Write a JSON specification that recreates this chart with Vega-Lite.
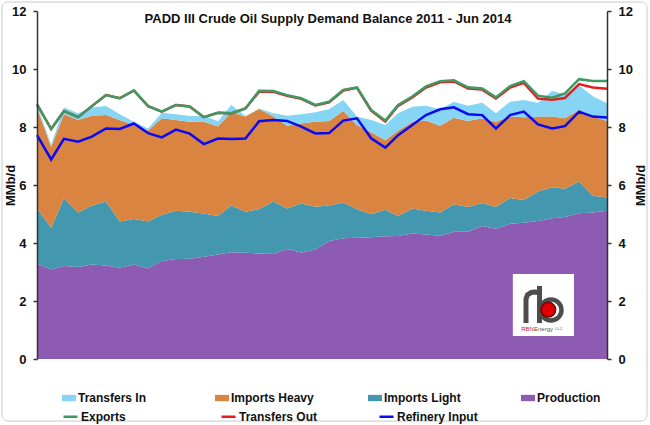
{
  "$schema": "https://vega.github.io/schema/vega-lite/v6.json",
  "width": 570,
  "height": 348,
  "autosize": {"type": "none"},
  "padding": {"left": 37, "top": 11, "right": 43, "bottom": 66},
  "background": "white",
  "title": {
    "text": "PADD III Crude Oil Supply Demand Balance 2011 - Jun 2014",
    "font": "Liberation Sans",
    "fontSize": 13,
    "fontWeight": "bold",
    "color": "#111111",
    "anchor": "middle",
    "dx": 6,
    "offset": -24
  },
  "config": {"view": {"stroke": null}, "font": "Liberation Sans"},
  "datasets": {
    "balance": [
      {"month": "2011-01-01", "Production": 3.29, "Imports Light": 1.90, "Imports Heavy": 3.46, "Transfers In": 0.11, "Exports": 8.78, "Transfers Out": 8.78, "Refinery Input": 7.72},
      {"month": "2011-02-01", "Production": 3.09, "Imports Light": 1.44, "Imports Heavy": 2.79, "Transfers In": 0.08, "Exports": 7.93, "Transfers Out": 7.93, "Refinery Input": 6.88},
      {"month": "2011-03-01", "Production": 3.21, "Imports Light": 2.33, "Imports Heavy": 2.90, "Transfers In": 0.23, "Exports": 8.55, "Transfers Out": 8.55, "Refinery Input": 7.59},
      {"month": "2011-04-01", "Production": 3.17, "Imports Light": 1.88, "Imports Heavy": 3.19, "Transfers In": 0.23, "Exports": 8.34, "Transfers Out": 8.34, "Refinery Input": 7.49},
      {"month": "2011-05-01", "Production": 3.26, "Imports Light": 2.03, "Imports Heavy": 3.10, "Transfers In": 0.28, "Exports": 8.72, "Transfers Out": 8.72, "Refinery Input": 7.67},
      {"month": "2011-06-01", "Production": 3.22, "Imports Light": 2.21, "Imports Heavy": 2.98, "Transfers In": 0.31, "Exports": 9.10, "Transfers Out": 9.10, "Refinery Input": 7.95},
      {"month": "2011-07-01", "Production": 3.15, "Imports Light": 1.59, "Imports Heavy": 3.50, "Transfers In": 0.20, "Exports": 8.99, "Transfers Out": 8.99, "Refinery Input": 7.93},
      {"month": "2011-08-01", "Production": 3.26, "Imports Light": 1.57, "Imports Heavy": 3.24, "Transfers In": 0.11, "Exports": 9.26, "Transfers Out": 9.26, "Refinery Input": 8.12},
      {"month": "2011-09-01", "Production": 3.12, "Imports Light": 1.62, "Imports Heavy": 3.14, "Transfers In": 0.07, "Exports": 8.72, "Transfers Out": 8.72, "Refinery Input": 7.79},
      {"month": "2011-10-01", "Production": 3.38, "Imports Light": 1.59, "Imports Heavy": 3.33, "Transfers In": 0.19, "Exports": 8.53, "Transfers Out": 8.53, "Refinery Input": 7.64},
      {"month": "2011-11-01", "Production": 3.45, "Imports Light": 1.66, "Imports Heavy": 3.13, "Transfers In": 0.20, "Exports": 8.76, "Transfers Out": 8.76, "Refinery Input": 7.91},
      {"month": "2011-12-01", "Production": 3.46, "Imports Light": 1.62, "Imports Heavy": 3.10, "Transfers In": 0.20, "Exports": 8.71, "Transfers Out": 8.71, "Refinery Input": 7.77},
      {"month": "2012-01-01", "Production": 3.53, "Imports Light": 1.49, "Imports Heavy": 3.16, "Transfers In": 0.21, "Exports": 8.34, "Transfers Out": 8.34, "Refinery Input": 7.41},
      {"month": "2012-02-01", "Production": 3.60, "Imports Light": 1.33, "Imports Heavy": 3.09, "Transfers In": 0.18, "Exports": 8.49, "Transfers Out": 8.49, "Refinery Input": 7.60},
      {"month": "2012-03-01", "Production": 3.68, "Imports Light": 1.61, "Imports Heavy": 3.22, "Transfers In": 0.25, "Exports": 8.47, "Transfers Out": 8.47, "Refinery Input": 7.59},
      {"month": "2012-04-01", "Production": 3.66, "Imports Light": 1.42, "Imports Heavy": 3.28, "Transfers In": 0.02, "Exports": 8.64, "Transfers Out": 8.64, "Refinery Input": 7.60},
      {"month": "2012-05-01", "Production": 3.64, "Imports Light": 1.53, "Imports Heavy": 3.45, "Transfers In": 0.02, "Exports": 9.25, "Transfers Out": 9.22, "Refinery Input": 8.20},
      {"month": "2012-06-01", "Production": 3.62, "Imports Light": 1.81, "Imports Heavy": 2.93, "Transfers In": 0.11, "Exports": 9.24, "Transfers Out": 9.21, "Refinery Input": 8.24},
      {"month": "2012-07-01", "Production": 3.79, "Imports Light": 1.40, "Imports Heavy": 2.85, "Transfers In": 0.35, "Exports": 9.10, "Transfers Out": 9.08, "Refinery Input": 8.21},
      {"month": "2012-08-01", "Production": 3.67, "Imports Light": 1.69, "Imports Heavy": 2.76, "Transfers In": 0.32, "Exports": 8.99, "Transfers Out": 8.97, "Refinery Input": 8.01},
      {"month": "2012-09-01", "Production": 3.78, "Imports Light": 1.47, "Imports Heavy": 2.93, "Transfers In": 0.33, "Exports": 8.76, "Transfers Out": 8.74, "Refinery Input": 7.78},
      {"month": "2012-10-01", "Production": 4.07, "Imports Light": 1.22, "Imports Heavy": 2.92, "Transfers In": 0.40, "Exports": 8.87, "Transfers Out": 8.85, "Refinery Input": 7.79},
      {"month": "2012-11-01", "Production": 4.16, "Imports Light": 1.24, "Imports Heavy": 3.15, "Transfers In": 0.38, "Exports": 9.28, "Transfers Out": 9.26, "Refinery Input": 8.22},
      {"month": "2012-12-01", "Production": 4.18, "Imports Light": 0.98, "Imports Heavy": 2.91, "Transfers In": 0.29, "Exports": 9.37, "Transfers Out": 9.35, "Refinery Input": 8.30},
      {"month": "2013-01-01", "Production": 4.20, "Imports Light": 0.79, "Imports Heavy": 2.83, "Transfers In": 0.42, "Exports": 8.59, "Transfers Out": 8.56, "Refinery Input": 7.61},
      {"month": "2013-02-01", "Production": 4.23, "Imports Light": 0.92, "Imports Heavy": 2.39, "Transfers In": 0.53, "Exports": 8.22, "Transfers Out": 8.19, "Refinery Input": 7.29},
      {"month": "2013-03-01", "Production": 4.24, "Imports Light": 0.69, "Imports Heavy": 2.94, "Transfers In": 0.60, "Exports": 8.76, "Transfers Out": 8.73, "Refinery Input": 7.72},
      {"month": "2013-04-01", "Production": 4.33, "Imports Light": 0.86, "Imports Heavy": 2.98, "Transfers In": 0.53, "Exports": 9.05, "Transfers Out": 9.02, "Refinery Input": 8.07},
      {"month": "2013-05-01", "Production": 4.29, "Imports Light": 0.82, "Imports Heavy": 3.11, "Transfers In": 0.51, "Exports": 9.40, "Transfers Out": 9.36, "Refinery Input": 8.41},
      {"month": "2013-06-01", "Production": 4.25, "Imports Light": 0.80, "Imports Heavy": 2.99, "Transfers In": 0.57, "Exports": 9.58, "Transfers Out": 9.54, "Refinery Input": 8.61},
      {"month": "2013-07-01", "Production": 4.39, "Imports Light": 0.95, "Imports Heavy": 2.98, "Transfers In": 0.55, "Exports": 9.61, "Transfers Out": 9.57, "Refinery Input": 8.68},
      {"month": "2013-08-01", "Production": 4.39, "Imports Light": 0.85, "Imports Heavy": 2.97, "Transfers In": 0.52, "Exports": 9.37, "Transfers Out": 9.33, "Refinery Input": 8.44},
      {"month": "2013-09-01", "Production": 4.59, "Imports Light": 0.79, "Imports Heavy": 2.92, "Transfers In": 0.54, "Exports": 9.33, "Transfers Out": 9.29, "Refinery Input": 8.41},
      {"month": "2013-10-01", "Production": 4.49, "Imports Light": 0.75, "Imports Heavy": 2.94, "Transfers In": 0.29, "Exports": 9.02, "Transfers Out": 8.98, "Refinery Input": 7.95},
      {"month": "2013-11-01", "Production": 4.66, "Imports Light": 0.89, "Imports Heavy": 2.81, "Transfers In": 0.51, "Exports": 9.41, "Transfers Out": 9.36, "Refinery Input": 8.41},
      {"month": "2013-12-01", "Production": 4.70, "Imports Light": 0.78, "Imports Heavy": 2.86, "Transfers In": 0.59, "Exports": 9.58, "Transfers Out": 9.52, "Refinery Input": 8.53},
      {"month": "2014-01-01", "Production": 4.76, "Imports Light": 1.02, "Imports Heavy": 2.58, "Transfers In": 0.48, "Exports": 9.08, "Transfers Out": 8.98, "Refinery Input": 8.09},
      {"month": "2014-02-01", "Production": 4.85, "Imports Light": 1.07, "Imports Heavy": 2.44, "Transfers In": 0.88, "Exports": 9.01, "Transfers Out": 8.94, "Refinery Input": 7.95},
      {"month": "2014-03-01", "Production": 4.90, "Imports Light": 0.97, "Imports Heavy": 2.43, "Transfers In": 0.83, "Exports": 9.16, "Transfers Out": 9.00, "Refinery Input": 8.03},
      {"month": "2014-04-01", "Production": 5.03, "Imports Light": 1.09, "Imports Heavy": 2.47, "Transfers In": 0.84, "Exports": 9.65, "Transfers Out": 9.48, "Refinery Input": 8.53},
      {"month": "2014-05-01", "Production": 5.05, "Imports Light": 0.58, "Imports Heavy": 2.73, "Transfers In": 0.70, "Exports": 9.59, "Transfers Out": 9.36, "Refinery Input": 8.36},
      {"month": "2014-06-01", "Production": 5.11, "Imports Light": 0.46, "Imports Heavy": 2.64, "Transfers In": 0.61, "Exports": 9.59, "Transfers Out": 9.32, "Refinery Input": 8.33}
    ]
  },
  "resolve": {"axis": {"y": "independent"}},
  "layer": [
    {
      "data": {"values": [{"from": "2010-10-16T10:00:00Z", "to": "2014-08-27T12:00:00Z", "low": -2.14, "high": 12.31}]},
      "mark": {"type": "rect", "fill": null, "stroke": "#c9c9c9", "strokeWidth": 1, "cornerRadius": 6},
      "encoding": {
        "x": {"field": "from", "type": "temporal", "axis": null},
        "x2": {"field": "to"},
        "y": {"field": "low", "type": "quantitative", "axis": null},
        "y2": {"field": "high"}
      }
    },
    {
      "data": {"name": "balance"},
      "transform": [
        {"fold": ["Production", "Imports Light", "Imports Heavy", "Transfers In"], "as": ["series", "value"]},
        {"window": [{"op": "row_number", "as": "layerOrder"}], "groupby": ["month"]}
      ],
      "mark": {"type": "area", "opacity": 1},
      "encoding": {
        "x": {
          "field": "month",
          "type": "temporal",
          "scale": {
            "type": "utc",
            "domain": [
              {"year": 2011, "month": 1, "date": 1, "utc": true},
              {"year": 2014, "month": 6, "date": 1, "utc": true}
            ]
          },
          "axis": {
            "orient": "bottom",
            "title": null,
            "values": [
              {"year": 2011, "month": 1, "date": 1, "utc": true},
              {"year": 2012, "month": 1, "date": 1, "utc": true},
              {"year": 2013, "month": 1, "date": 1, "utc": true},
              {"year": 2014, "month": 1, "date": 1, "utc": true}
            ],
            "format": "%Y",
            "grid": false,
            "labelFlush": false,
            "labelOverlap": false,
            "labelFont": "Liberation Sans",
            "labelFontSize": 12,
            "labelFontWeight": "bold",
            "labelColor": "#111111",
            "labelPadding": 9,
            "tickSize": 4,
            "tickColor": "#b5b5b5",
            "domainColor": "#cfcfcf"
          }
        },
        "y": {
          "field": "value",
          "type": "quantitative",
          "stack": "zero",
          "scale": {"domain": [0, 12], "nice": false},
          "axis": {
            "orient": "left",
            "values": [0, 2, 4, 6, 8, 10, 12],
            "grid": false,
            "zindex": 1,
            "domainColor": "#333333",
            "domainWidth": 1.5,
            "tickColor": "#333333",
            "tickWidth": 1.5,
            "tickSize": 4,
            "labelFont": "Liberation Sans",
            "labelFontSize": 13,
            "labelFontWeight": "bold",
            "labelColor": "#111111",
            "labelPadding": 7,
            "title": "MMb/d",
            "titleFont": "Liberation Sans",
            "titleFontSize": 13,
            "titleFontWeight": "bold",
            "titleColor": "#111111",
            "titleAngle": 270,
            "titleAlign": "center",
            "titleBaseline": "middle",
            "titleX": -27,
            "titleY": 174
          }
        },
        "order": {"field": "layerOrder", "type": "quantitative", "sort": "ascending"},
        "fill": {
          "field": "series",
          "type": "nominal",
          "scale": {
            "domain": ["Transfers In", "Imports Heavy", "Imports Light", "Production"],
            "range": ["#86D5F4", "#DA8441", "#4397AE", "#8D5BB1"]
          },
          "legend": {
            "orient": "none",
            "legendX": 25,
            "legendY": 380,
            "direction": "horizontal",
            "columns": 4,
            "columnPadding": 54,
            "gridAlign": "all",
            "title": null,
            "symbolType": "M-1,-0.45H1V0.45H-1Z",
            "symbolSize": 196,
            "symbolStrokeWidth": 0,
            "labelFont": "Liberation Sans",
            "labelFontSize": 12,
            "labelFontWeight": "bold",
            "labelColor": "#111111",
            "labelOffset": 2
          }
        }
      }
    },
    {
      "data": {"name": "balance"},
      "transform": [
        {"fold": ["Transfers Out", "Exports", "Refinery Input"], "as": ["series", "value"]}
      ],
      "mark": {"type": "line", "strokeWidth": 2.5},
      "encoding": {
        "x": {"field": "month", "type": "temporal", "scale": {"type": "utc"}},
        "y": {
          "field": "value",
          "type": "quantitative",
          "axis": {
            "orient": "right",
            "values": [0, 2, 4, 6, 8, 10, 12],
            "grid": false,
            "zindex": 1,
            "domainColor": "#333333",
            "domainWidth": 1.5,
            "tickColor": "#333333",
            "tickWidth": 1.5,
            "tickSize": 4,
            "labelFont": "Liberation Sans",
            "labelFontSize": 13,
            "labelFontWeight": "bold",
            "labelColor": "#111111",
            "labelPadding": 7,
            "title": "MMb/d",
            "titleFont": "Liberation Sans",
            "titleFontSize": 13,
            "titleFontWeight": "bold",
            "titleColor": "#111111",
            "titleAngle": 270,
            "titleAlign": "center",
            "titleBaseline": "middle",
            "titleX": 33,
            "titleY": 174
          }
        },
        "stroke": {
          "field": "series",
          "type": "nominal",
          "scale": {
            "domain": ["Exports", "Transfers Out", "Refinery Input"],
            "range": ["#3E9A62", "#E81C1C", "#0A0AF2"]
          },
          "legend": {
            "orient": "none",
            "legendX": 25,
            "legendY": 397,
            "direction": "horizontal",
            "columns": 4,
            "columnPadding": 54,
            "gridAlign": "all",
            "title": null,
            "symbolType": "stroke",
            "symbolSize": 196,
            "symbolStrokeWidth": 2.5,
            "labelFont": "Liberation Sans",
            "labelFontSize": 12,
            "labelFontWeight": "bold",
            "labelColor": "#111111",
            "labelOffset": 2
          }
        }
      }
    },
    {
      "data": {"values": [{"from": "2013-11-07", "to": "2014-03-20T19:00:00Z", "low": 0.79, "high": 2.93}]},
      "mark": {"type": "rect", "fill": "white"},
      "encoding": {
        "x": {"field": "from", "type": "temporal", "axis": null},
        "x2": {"field": "to"},
        "y": {"field": "low", "type": "quantitative", "axis": null},
        "y2": {"field": "high"}
      }
    },
    {
      "data": {"values": [
        {"at": "2013-12-05T19:00:00Z", "v": 1.24},
        {"at": "2013-12-05T19:00:00Z", "v": 2.07},
        {"at": "2013-12-09T02:00:00Z", "v": 2.21},
        {"at": "2013-12-16T17:00:00Z", "v": 2.29},
        {"at": "2013-12-25T10:00:00Z", "v": 2.31},
        {"at": "2014-01-04T07:00:00Z", "v": 2.28}
      ]},
      "mark": {"type": "line", "stroke": "#4d4d4d", "strokeWidth": 5, "strokeCap": "butt", "strokeJoin": "round"},
      "encoding": {
        "x": {"field": "at", "type": "temporal", "axis": null},
        "y": {"field": "v", "type": "quantitative", "axis": null}
      }
    },
    {
      "data": {"values": [{"at": "2014-01-04T07:00:00Z", "bottom": 1.24, "top": 2.52}]},
      "mark": {"type": "rule", "stroke": "#4d4d4d", "strokeWidth": 5, "strokeCap": "butt"},
      "encoding": {
        "x": {"field": "at", "type": "temporal", "axis": null},
        "y": {"field": "bottom", "type": "quantitative", "axis": null},
        "y2": {"field": "top"}
      }
    },
    {
      "data": {"values": [{"at": "2014-01-29T12:00:00Z", "v": 1.69}]},
      "mark": {"type": "point", "shape": "circle", "filled": false, "size": 440, "stroke": "#4d4d4d", "strokeWidth": 4.5, "opacity": 1},
      "encoding": {
        "x": {"field": "at", "type": "temporal", "axis": null},
        "y": {"field": "v", "type": "quantitative", "axis": null}
      }
    },
    {
      "data": {"values": [{"at": "2014-01-23T14:00:00Z", "v": 1.70}]},
      "mark": {"type": "point", "shape": "circle", "filled": true, "size": 215, "color": "#E00000", "opacity": 1, "stroke": "#7a0000", "strokeWidth": 1.5},
      "encoding": {
        "x": {"field": "at", "type": "temporal", "axis": null},
        "y": {"field": "v", "type": "quantitative", "axis": null}
      }
    },
    {
      "data": {"values": [
        {"at": "2013-12-09T02:00:00Z", "v": 1.03, "label": "RBN", "tone": "red"},
        {"at": "2014-01-13T02:00:00Z", "v": 1.03, "label": "Energy", "tone": "grey"}
      ]},
      "mark": {"type": "text", "font": "Liberation Sans", "fontSize": 6, "align": "center", "baseline": "middle"},
      "encoding": {
        "x": {"field": "at", "type": "temporal", "axis": null},
        "y": {"field": "v", "type": "quantitative", "axis": null},
        "text": {"field": "label"},
        "color": {"field": "tone", "type": "nominal", "scale": {"domain": ["red", "grey"], "range": ["#C0282D", "#555555"]}, "legend": null}
      }
    },
    {
      "data": {"values": [{"at": "2014-02-16", "v": 1.02, "label": "LLC"}]},
      "mark": {"type": "text", "font": "Liberation Sans", "fontSize": 4, "align": "center", "baseline": "middle", "color": "#555555"},
      "encoding": {
        "x": {"field": "at", "type": "temporal", "axis": null},
        "y": {"field": "v", "type": "quantitative", "axis": null},
        "text": {"field": "label"}
      }
    }
  ]
}
